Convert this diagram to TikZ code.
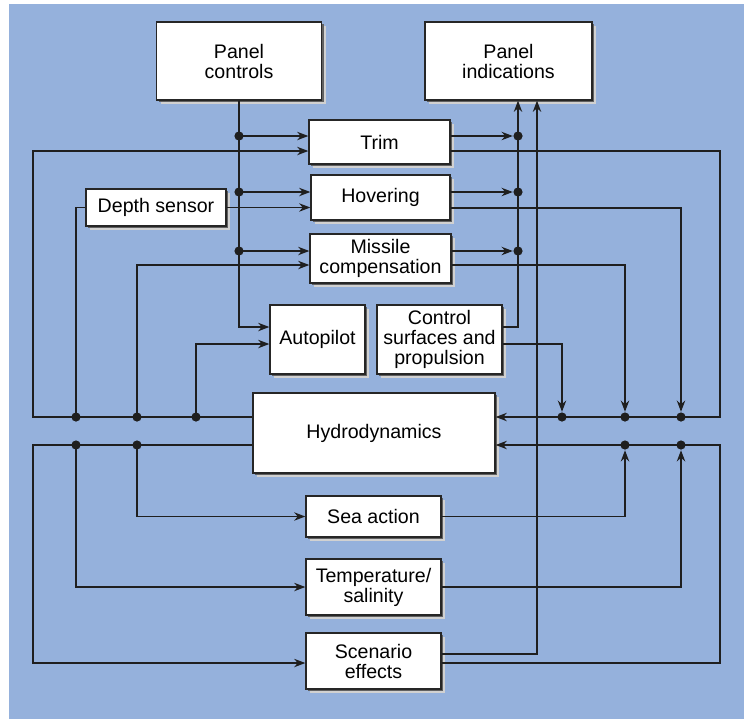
\documentclass[tikz,border=0pt]{standalone}
\usepackage{fontspec}
\setmainfont{Liberation Sans}
\usetikzlibrary{positioning}
\usetikzlibrary{arrows.meta, shadows}

\definecolor{bgblue}{RGB}{149,177,220}
\tikzset{
  blk/.style={draw=black!85, fill=white, line width=0.65pt, align=center, inner sep=0pt,
    general shadow={fill=white!82!black, shadow xshift=2pt, shadow yshift=-2pt},
    general shadow={fill=black!62, shadow xshift=1pt, shadow yshift=-1pt}},
  dot/.style={circle, fill=black!88, inner sep=0pt, minimum size=4.6pt},
  arr/.style={-{Stealth[length=5.6pt, width=4.2pt, inset=1.8pt]}},
}

\begin{document}
\begin{tikzpicture}[x=0.5pt, y=-0.5pt, line width=0.62pt, draw=black!88,
    font=\fontsize{9.8}{10}\selectfont]
  \useasboundingbox (0,0) rectangle (744,719);
  \fill[bgblue] (9,4) rectangle (744,719); % background

  % blocks
  \node[blk, minimum width=82.5pt, minimum height=39pt] (pc) at (239,61) {Panel\\controls};
  \node[blk, minimum width=83.5pt, minimum height=39pt] (pi) at (508.5,61) {Panel\\indications};
  \node[blk, minimum width=70.5pt, minimum height=22pt] (trim) at (379.5,142) {Trim};
  \node[blk, minimum width=69.5pt, minimum height=22.5pt] (hov) at (380.5,197.5) {Hovering};
  \node[blk, minimum width=70pt, minimum height=18.5pt] (depth) at (156,207.5) {Depth sensor};
  \node[blk, minimum width=70.5pt, minimum height=24.5pt] (miss) at (380.5,258.5) {Missile\\compensation};
  \node[blk, minimum width=47.5pt, minimum height=34.5pt] (auto) at (317.5,339.5) {Autopilot};
  \node[blk, minimum width=62.5pt, minimum height=34.5pt] (csp) at (439.5,339.5) {Control\\surfaces and\\propulsion};
  \node[blk, minimum width=121pt, minimum height=40pt] (hydro) at (374,433) {Hydrodynamics};
  \node[blk, minimum width=67.5pt, minimum height=20.5pt] (sea) at (373.5,516.5) {Sea action};
  \node[blk, minimum width=67.5pt, minimum height=28pt] (temp) at (373.5,587) {Temperature/\\salinity};
  \node[blk, minimum width=67.5pt, minimum height=28pt] (scen) at (373.5,661) {Scenario\\effects};

  % junctions
  \foreach \n/\x/\y in {pA/239/136, pB/239/192, pC/239/251,
                        hA/76/417, hB/137/417, hC/196/417, hD/76/445, hE/137/445,
                        iA/518/136, iB/518/192, iC/518/251,
                        rA/562/417, rB/625/417, rC/681/417, rD/625/445, rE/681/445}
    \node[dot] (\n) at (\x,\y) {};
  \coordinate (cUL) at (33,151);
  \coordinate (cLL) at (33,663);
  \coordinate (cUR) at (720,151);
  \coordinate (cLR) at (720,663);

  % panel controls
  \draw[arr] (pc.south) -- (pA.center) -- (pB.center) -- (pC.center) |- ([yshift=6.25pt]auto.west);
  \draw[arr] (pA.center) -- (pA -| trim.west);
  \draw[arr] (pB.center) -- (pB -| hov.west);
  \draw[arr] (pC.center) -- (pC -| miss.west);

  % hydrodynamics, left side
  \draw[arr] ([yshift=8pt]hydro.west) -- (hC.center) -- (hB.center) -- (hA.center) -| (cUL) -- (cUL -| trim.west);
  \draw (hA.center) |- (depth.west);
  \draw[arr] (depth.east) -- (depth.east -| hov.west);
  \draw[arr] (hB.center) |- ([yshift=-3.25pt]miss.west);
  \draw[arr] (hC.center) |- ([yshift=-2.25pt]auto.west);
  \draw[arr] ([yshift=-6pt]hydro.west) -- (hE.center) -- (hD.center) -| (cLL) -- (cLL -| scen.west);
  \draw[arr] (hE.center) |- (sea.west);
  \draw[arr] (hD.center) |- (temp.west);

  % panel indications
  \draw[arr] (iA -| trim.east) -- (iA);
  \draw[arr] (iB -| hov.east) -- (iB);
  \draw[arr] (iC -| miss.east) -- (iC);
  \draw[arr] ([yshift=6.25pt]csp.east) -| (iC.center) -- (iB.center) -- (iA.center) -- (iA |- pi.south);
  \draw[arr] ([yshift=3.5pt]scen.east) -| ([xshift=14.25pt]pi.south);

  % hydrodynamics, right side
  \draw[arr] ([yshift=-4.5pt]trim.east) -- (cUR) |- (rC.center) -- (rB.center) -- (rA.center) -- ([yshift=8pt]hydro.east);
  \draw[arr] ([yshift=-5.25pt]hov.east) -| (rC);
  \draw[arr] ([yshift=-3.25pt]miss.east) -| (rB);
  \draw[arr] ([yshift=-2.25pt]csp.east) -| (rA);
  \draw[arr] ([yshift=-1pt]scen.east) -- (cLR) |- (rE.center) -- (rD.center) -- ([yshift=-6pt]hydro.east);
  \draw[arr] (sea.east) -| (rD);
  \draw[arr] (temp.east) -| (rE);
\end{tikzpicture}
\end{document}
